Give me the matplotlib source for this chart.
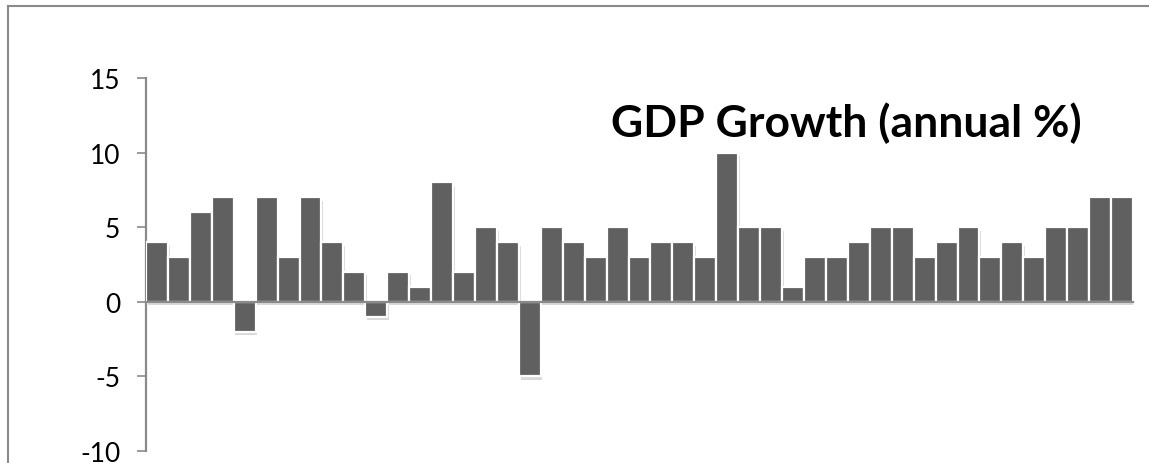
import matplotlib
matplotlib.use("Agg")
import matplotlib.pyplot as plt
import matplotlib.patheffects as pe
from matplotlib.lines import Line2D

values = [4, 3, 6, 7, -2, 7, 3, 7, 4, 2, -1, 2, 1, 8, 2, 5, 4, -5, 5, 4, 3, 5, 3, 4, 4,
          3, 10, 5, 5, 1, 3, 3, 4, 5, 5, 3, 4, 5, 3, 4, 3, 5, 5, 7, 7]
yticks = [-10, -5, 0, 5, 10, 15]
title = "GDP Growth (annual %)"

W, H = 1149, 464
fig = plt.figure(figsize=(W / 100, H / 100), dpi=100)
ax = fig.add_axes([146 / W, 1 - 452 / H, 987 / W, (452 - 79) / H])

x = list(range(len(values)))
bars = ax.bar(x, values, width=1.0, color="#606060", edgecolor="white", linewidth=1.6, zorder=3)
for b in bars:
    b.set_path_effects([pe.SimplePatchShadow(offset=(1.2, -2.5), shadow_rgbFace="#c0c0c0", alpha=0.6), pe.Normal()])

ax.set_xlim(-0.5, len(values) - 0.5)
ax.set_ylim(-10, 15)
ax.set_yticks(yticks)
ax.set_yticklabels([str(t) for t in yticks], fontsize=19, family="Lato")
ax.set_xticks([])

for s in ["top", "right"]:
    ax.spines[s].set_visible(False)
ax.spines["bottom"].set_position(("data", 0))
ax.spines["bottom"].set_color("#8a8a8a")
ax.spines["bottom"].set_linewidth(1.6)
ax.spines["bottom"].set_zorder(4)
ax.spines["left"].set_color("#8a8a8a")
ax.spines["left"].set_linewidth(1.6)
ax.tick_params(axis="y", direction="out", length=6.5, width=1.2, color="#8a8a8a", pad=12, labelcolor="black")
ax.set_facecolor("none")

fig.text(846.5 / W, 1 - 137 / H, title, ha="center", va="baseline", fontsize=32,
         fontweight="bold", family="Lato", zorder=10)

# outer frame
fig.add_artist(Line2D([8 / W, 8 / W], [0, 1 - 7 / H], transform=fig.transFigure, color="#8a8a8a", lw=1.5))
fig.add_artist(Line2D([8 / W, 1], [1 - 7 / H, 1 - 7 / H], transform=fig.transFigure, color="#8a8a8a", lw=1.5))

fig.savefig("out.png", dpi=100)
